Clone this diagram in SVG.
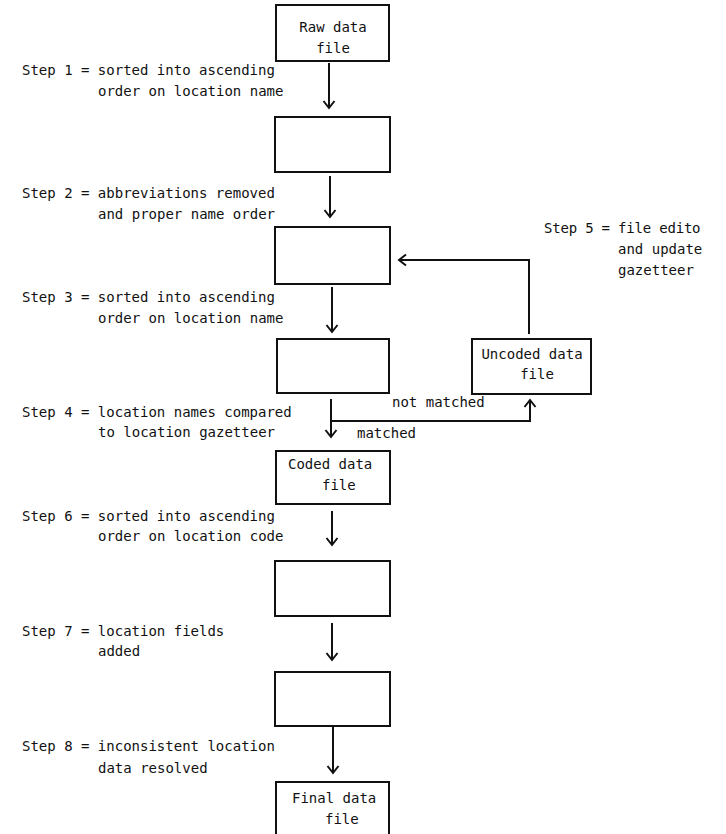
<svg xmlns="http://www.w3.org/2000/svg" width="726" height="834" viewBox="0 0 726 834">
<style>
text{font-family:"DejaVu Sans Mono","Liberation Mono",monospace;font-size:14px;fill:#111}
.box{fill:#fff;stroke:#111;stroke-width:2}
.c{fill:none;stroke:#111;stroke-width:2}
.m{text-anchor:middle}
</style>
<defs>
<marker id="arr" markerWidth="14" markerHeight="14" refX="12" refY="7" orient="auto" markerUnits="userSpaceOnUse" viewBox="0 0 14 14">
<path d="M5,1.5 L12,7 L5,12.5" fill="none" stroke="#111" stroke-width="2"/>
</marker>
</defs>
<rect width="726" height="834" fill="#fff"/>
<g id="connectors">
<path class="c" d="M329,63 V108" marker-end="url(#arr)"/>
<path class="c" d="M330,176 V217" marker-end="url(#arr)"/>
<path class="c" d="M332,287 V332" marker-end="url(#arr)"/>
<path class="c" d="M331,399 V437" marker-end="url(#arr)"/>
<path class="c" d="M331,421 H530 V400" marker-end="url(#arr)"/>
<path class="c" d="M529,334 V260 H399" marker-end="url(#arr)"/>
<path class="c" d="M332,511 V545" marker-end="url(#arr)"/>
<path class="c" d="M332,623 V660" marker-end="url(#arr)"/>
<path class="c" d="M333,727 V773" marker-end="url(#arr)"/>
<text x="392" y="407">not matched</text>
<text x="357" y="438">matched</text>
</g>
<g id="raw">
<rect class="box" x="276" y="5" width="113" height="56"/>
<text class="m" x="333" y="32">Raw data</text>
<text class="m" x="333" y="53">file</text>
</g>
<g id="box2"><rect class="box" x="275" y="117" width="115" height="55"/></g>
<g id="box3"><rect class="box" x="275" y="227" width="115" height="57"/></g>
<g id="box4"><rect class="box" x="277" y="339" width="112" height="54"/></g>
<g id="uncoded">
<rect class="box" x="472" y="339" width="119" height="55"/>
<text class="m" x="532" y="359">Uncoded data</text>
<text class="m" x="537" y="379">file</text>
</g>
<g id="coded">
<rect class="box" x="276" y="451" width="114" height="53"/>
<text x="288" y="469">Coded data</text>
<text x="322" y="490">file</text>
</g>
<g id="box6"><rect class="box" x="275" y="561" width="115" height="55"/></g>
<g id="box7"><rect class="box" x="275" y="672" width="115" height="54"/></g>
<g id="final">
<rect class="box" x="276" y="782" width="113" height="60"/>
<text x="292" y="803">Final data</text>
<text x="325" y="824">file</text>
</g>
<g id="steps">
<text x="22" y="75">Step 1 = sorted into ascending</text>
<text x="98" y="96">order on location name</text>
<text x="22" y="198">Step 2 = abbreviations removed</text>
<text x="98" y="219">and proper name order</text>
<text x="22" y="302">Step 3 = sorted into ascending</text>
<text x="98" y="323">order on location name</text>
<text x="22" y="417">Step 4 = location names compared</text>
<text x="98" y="437">to location gazetteer</text>
<text x="544" y="233" letter-spacing="-0.2">Step 5 = file edito</text>
<text x="618" y="254">and update</text>
<text x="618" y="275">gazetteer</text>
<text x="22" y="521">Step 6 = sorted into ascending</text>
<text x="98" y="541">order on location code</text>
<text x="22" y="636">Step 7 = location fields</text>
<text x="98" y="656">added</text>
<text x="22" y="751">Step 8 = inconsistent location</text>
<text x="98" y="773">data resolved</text>
</g>
</svg>
